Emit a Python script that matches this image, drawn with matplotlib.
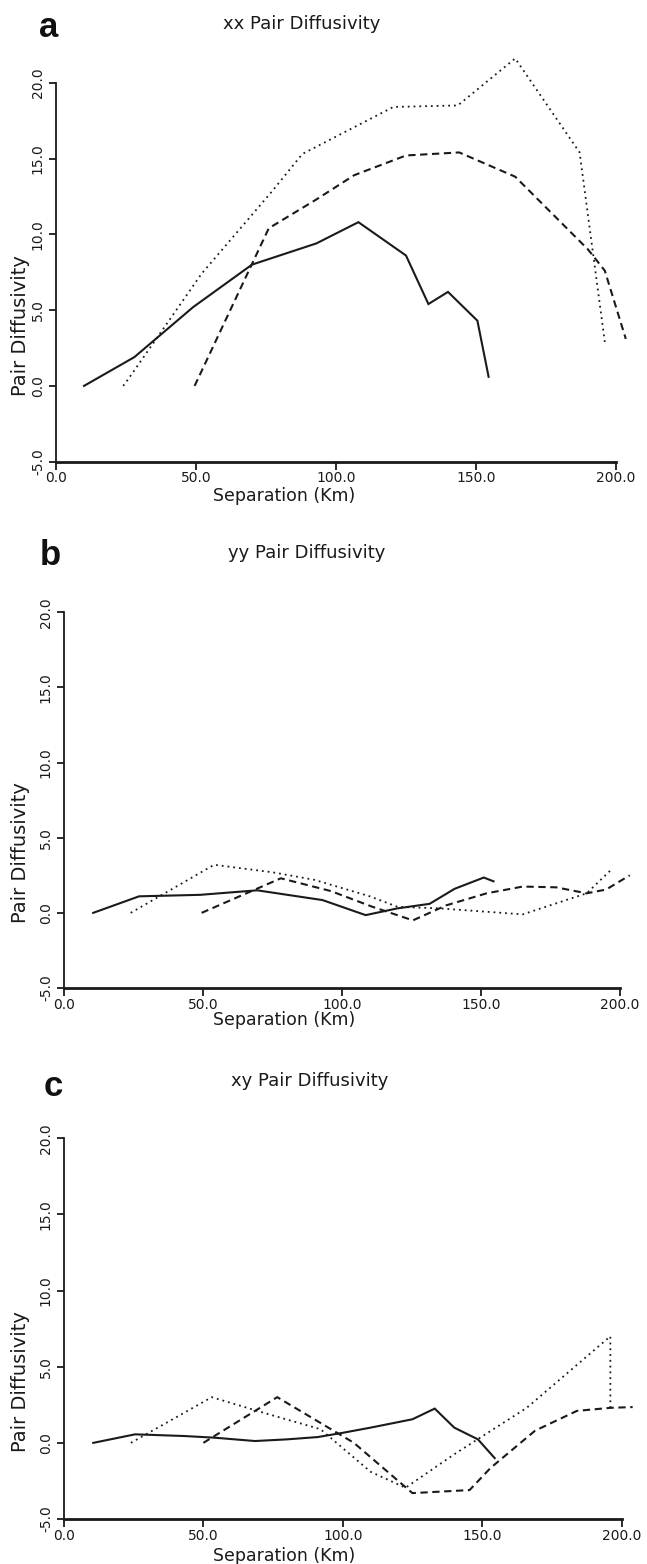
import matplotlib
matplotlib.use("Agg")
import matplotlib.pyplot as plt

# ---------------- data ----------------
titles = ["xx Pair Diffusivity", "yy Pair Diffusivity", "xy Pair Diffusivity"]
letters = ["a", "b", "c"]
xticks = [0, 50, 100, 150, 200]
xticklabels = ["0.0", "50.0", "100.0", "150.0", "200.0"]
yticks = [-5, 0, 5, 10, 15, 20]
yticklabels = ["-5.0", "0.0", "5.0", "10.0", "15.0", "20.0"]

# panel a (xx)
a_solid_x = [10, 28, 49, 70, 93, 108, 125, 133, 140, 150.5, 154.5]
a_solid_y = [0.0, 1.9, 5.2, 8.0, 9.4, 10.8, 8.6, 5.4, 6.2, 4.3, 0.6]
a_dot_x = [24, 26, 52, 77, 88, 120.5, 143.5, 164, 187, 196]
a_dot_y = [0.0, 0.5, 7.4, 12.8, 15.3, 18.4, 18.5, 21.6, 15.4, 2.9]
a_dash_x = [49.5, 76, 93, 106.5, 125, 144, 164, 190, 196, 203.5]
a_dash_y = [0.0, 10.4, 12.3, 13.9, 15.2, 15.4, 13.8, 9.0, 7.6, 3.1]

# panel b (yy)
b_solid_x = [10.5, 27, 49, 69.5, 93, 108.5, 120, 131.5, 140.5, 151, 154.5]
b_solid_y = [0.0, 1.1, 1.2, 1.5, 0.85, -0.15, 0.3, 0.6, 1.6, 2.35, 2.1]
b_dot_x = [24, 54, 75, 90, 110, 120, 135, 150, 165, 188, 197]
b_dot_y = [0.0, 3.2, 2.7, 2.2, 1.1, 0.4, 0.3, 0.1, -0.1, 1.3, 2.9]
b_dash_x = [49.5, 78, 96, 111, 125.5, 137.5, 152, 165, 177, 188, 195, 203.5]
b_dash_y = [0.0, 2.3, 1.45, 0.4, -0.5, 0.5, 1.3, 1.75, 1.7, 1.3, 1.55, 2.5]

# panel c (xy)
c_solid_x = [10.5, 25.5, 43, 54, 68.5, 80, 91, 100, 110, 125, 133, 140, 148.5, 154.5]
c_solid_y = [0.0, 0.56, 0.45, 0.34, 0.12, 0.23, 0.38, 0.66, 1.0, 1.55, 2.25, 1.0, 0.23, -1.0]
c_dot_x = [24, 53, 73, 92, 110, 122.5, 140, 166, 196, 196]
c_dot_y = [0.0, 3.0, 1.9, 0.9, -1.9, -2.95, -0.75, 2.3, 7.0, 2.3]
c_dash_x = [50, 76.5, 104, 125, 145.5, 153, 169, 184, 196, 204]
c_dash_y = [0.0, 3.0, 0.0, -3.3, -3.1, -1.65, 0.8, 2.1, 2.3, 2.35]

panels = [
    (a_solid_x, a_solid_y, a_dot_x, a_dot_y, a_dash_x, a_dash_y),
    (b_solid_x, b_solid_y, b_dot_x, b_dot_y, b_dash_x, b_dash_y),
    (c_solid_x, c_solid_y, c_dot_x, c_dot_y, c_dash_x, c_dash_y),
]

# ---------------- layout ----------------
W, H = 647, 1564
fig = plt.figure(figsize=(W / 100, H / 100), dpi=100)
plt.rcParams['font.family'] = ['DejaVu Sans']

# axes boxes in pixels: (left, top(y=20), right(x=200), bottom(y=-5))
boxes = [(56, 82.7, 616, 461.7), (64, 612.3, 620, 988), (64, 1138.3, 621.5, 1519)]
title_pos = [(302, 29), (307, 558), (310, 1086)]
letter_pos = [(39, 37), (40, 565), (44, 1096)]
xlabel_pad = [34, 32, 37]
ink = "#1a1a1a"

for i, (sx, sy, dx, dy, ex, ey) in enumerate(panels):
    l, t, r, b = boxes[i]
    ax = fig.add_axes([l / W, (H - b) / H, (r - l) / W, (b - t) / H])
    ax.set_xlim(0, 200)
    ax.set_ylim(-5, 20)
    for s in ["top", "right"]:
        ax.spines[s].set_visible(False)
    ax.spines["left"].set_linewidth(1.3)
    ax.spines["bottom"].set_linewidth(2.0)
    ax.spines["left"].set_color(ink)
    ax.spines["bottom"].set_color(ink)

    ax.plot(sx, sy, color=ink, lw=1.5, solid_joinstyle="miter", clip_on=False)
    ax.plot(dx, dy, color=ink, lw=1.3, linestyle=(0, (1, 2.2)), clip_on=False)
    ax.plot(ex, ey, color=ink, lw=1.5, linestyle=(0, (3.5, 2.2)), clip_on=False)

    ax.set_xticks(xticks)
    ax.set_xticklabels(xticklabels, fontsize=10, color=ink)
    ax.set_yticks(yticks)
    ax.set_yticklabels(yticklabels, fontsize=10, color=ink, rotation=90,
                       va="center")
    ax.tick_params(axis="x", direction="out", length=6, width=1.3, pad=1, colors=ink)
    ax.tick_params(axis="y", direction="out", length=5, width=1.3, pad=3, colors=ink)

    ax.set_ylabel("Pair Diffusivity", fontsize=14, color=ink)
    ax.yaxis.set_label_coords(-(l - 21) / (r - l), 0.36)
    ax.set_xlabel("Separation (Km)", fontsize=12.5, color=ink)
    ax.xaxis.set_label_coords((284 - l) / (r - l), -xlabel_pad[i] / (b - t))
    ax.xaxis.label.set_va("center")
    ax.yaxis.label.set_va("center")

    tx, ty = title_pos[i]
    fig.text(tx / W, 1 - ty / H, titles[i], fontsize=13, ha="center",
             va="baseline", color=ink)
    lx, ly = letter_pos[i]
    fig.text(lx / W, 1 - ly / H, letters[i], fontsize=25, fontweight="bold",
             family="Liberation Sans", ha="left", va="baseline", color="#111111")

fig.savefig("out.png", dpi=100, facecolor="white")
